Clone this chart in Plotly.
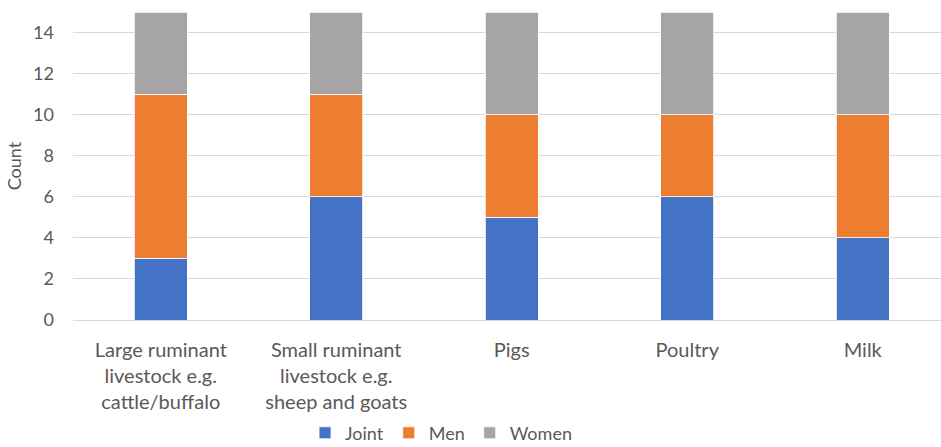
import plotly.graph_objects as go

categories = [
    "Large ruminant<br>livestock e.g.<br>cattle/buffalo",
    "Small ruminant<br>livestock e.g.<br>sheep and goats",
    "Pigs",
    "Poultry",
    "Milk",
]
joint = [3, 6, 5, 6, 4]
men = [8, 5, 5, 4, 6]
women = [4, 4, 5, 5, 5]

series = [
    ("Joint", joint, "#4472C4"),
    ("Men", men, "#ED7D31"),
    ("Women", women, "#A5A5A5"),
]

font_family = "Lato, 'Liberation Sans', sans-serif"
text_color = "#595959"

fig = go.Figure()
for name, values, color in series:
    fig.add_trace(go.Bar(
        name=name,
        x=list(range(len(categories))),
        y=values,
        width=0.30,
        marker=dict(color=color, line=dict(color="white", width=0.8)),
    ))

fig.update_layout(
    barmode="stack",
    width=941,
    height=447,
    margin=dict(l=73, r=0, t=12, b=127, autoexpand=False),
    paper_bgcolor="white",
    plot_bgcolor="white",
    font=dict(family=font_family, color=text_color, size=18),
    xaxis=dict(
        range=[-0.5, 4.446],
        tickmode="array",
        tickvals=list(range(len(categories))),
        ticktext=categories,
        showgrid=False,
        zeroline=False,
        showline=False,
        ticks="",
        tickfont=dict(size=20, color=text_color),
        ticklabelstandoff=16,
        automargin=False,
    ),
    yaxis=dict(
        range=[0, 15],
        tickmode="array",
        tickvals=[0, 2, 4, 6, 8, 10, 12, 14],
        showgrid=True,
        gridcolor="#D9D9D9",
        gridwidth=1,
        zeroline=True,
        zerolinecolor="#D9D9D9",
        zerolinewidth=1,
        showline=False,
        ticks="",
        tickfont=dict(size=18, color=text_color),
        ticklabelstandoff=18,
        title=dict(text="Count", font=dict(size=18, color=text_color), standoff=6),
        automargin=False,
    ),
    legend=dict(
        orientation="h",
        x=0.424,
        xanchor="center",
        y=-0.307,
        yanchor="top",
        font=dict(size=18, color=text_color),
        itemwidth=30,
        traceorder="normal",
    ),
    bargap=0.7,
)

fig.write_html("out.html")
